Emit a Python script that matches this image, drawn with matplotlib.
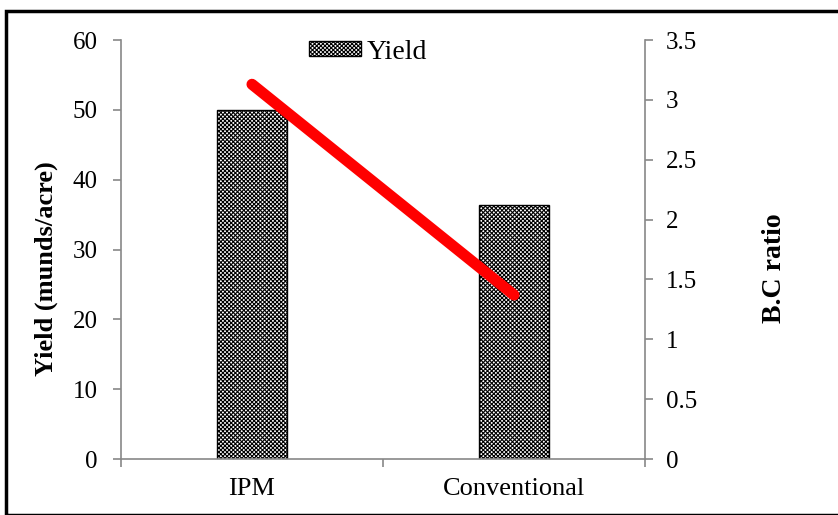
import matplotlib
matplotlib.use("Agg")
import matplotlib.pyplot as plt
from matplotlib.patches import Rectangle

categories = ["IPM", "Conventional"]
yield_vals = [50.0, 36.4]
bc_ratio = [3.13, 1.37]

plt.rcParams['font.family'] = ['Liberation Serif', 'DejaVu Serif']
plt.rcParams['hatch.linewidth'] = 0.8

fig = plt.figure(figsize=(8.38, 5.15), dpi=100)
ax = fig.add_axes([0.1444, 0.1087, 0.6253, 0.8136])
x = list(range(len(categories)))
ax.bar(x, yield_vals, width=0.265, color='white', edgecolor='black',
       hatch='xxxxxxxx', linewidth=1.0, label='Yield', zorder=2)
ax.set_xlim(-0.5, 1.5)
ax.set_ylim(0, 60)
ax.set_yticks(range(0, 61, 10))
ax.set_xticks([-0.5, 0.5, 1.5], minor=False)
ax.set_xticklabels([])
ax.set_xticks(x, minor=True)
ax.set_xticklabels(categories, minor=True)
ax.tick_params(axis='x', which='minor', length=0, pad=14, labelsize=19)
ax.tick_params(axis='x', which='major', length=6, color='#888888', width=1.2)
ax.tick_params(axis='y', length=6, color='#888888', width=1.2, labelsize=18, pad=11)
for s in ['top', 'right']:
    ax.spines[s].set_visible(False)
ax.spines['left'].set_color('#888888')
ax.spines['bottom'].set_color('#888888')
ax.spines['left'].set_linewidth(1.2)
ax.spines['bottom'].set_linewidth(1.2)
ax.set_ylabel('Yield (munds/acre)', fontsize=19, fontweight='bold')
ax.yaxis.set_label_coords(-0.120, 0.455)

ax2 = ax.twinx()
ax2.plot(x, bc_ratio, color='#ff0000', linewidth=8, solid_capstyle='round', zorder=3)
ax2.set_ylim(0, 3.5)
ax2.set_yticks([0, 0.5, 1, 1.5, 2, 2.5, 3, 3.5])
ax2.set_yticklabels(['0', '0.5', '1', '1.5', '2', '2.5', '3', '3.5'])
ax2.tick_params(axis='y', length=6, color='#888888', width=1.2, labelsize=18, pad=9)
for s in ['top', 'left', 'bottom']:
    ax2.spines[s].set_visible(False)
ax2.spines['right'].set_color('#888888')
ax2.spines['right'].set_linewidth(1.2)
ax2.set_ylabel('B.C ratio', fontsize=20, fontweight='bold')
ax2.yaxis.set_label_coords(1.223, 0.455)

ax.legend(loc='center', bbox_to_anchor=(0.471, 0.971), frameon=False,
          fontsize=20, handlelength=1.87, handleheight=0.47, handletextpad=0.2,
          borderpad=0, borderaxespad=0)

fig.patches.append(Rectangle((6/838, 0), 1.0, 1 - 11/515, transform=fig.transFigure,
                             fill=False, edgecolor='black', linewidth=2.5, zorder=0))

fig.savefig('out.png', dpi=100)
